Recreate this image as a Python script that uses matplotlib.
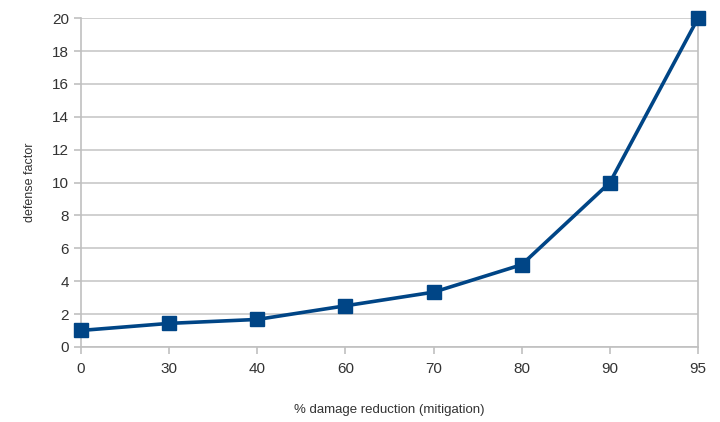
import matplotlib
matplotlib.use("Agg")
import matplotlib.pyplot as plt

# data
mitigation = ["0", "30", "40", "60", "70", "80", "90", "95"]
defense_factor = [1.0, 1.43, 1.67, 2.5, 3.33, 5.0, 10.0, 20.0]

plt.rcParams["font.family"] = ["Liberation Sans", "DejaVu Sans"]

fig = plt.figure(figsize=(7.2, 4.22), dpi=100)
ax = fig.add_axes([0.1125, 0.178, 0.857, 0.779])

x = list(range(len(mitigation)))
ax.plot(x, defense_factor, color="#004586", linewidth=2.6,
        marker="s", markersize=10, zorder=3, clip_on=False)

ax.set_xlim(0, len(mitigation) - 1)
ax.set_ylim(0, 20)
ax.set_xticks(x)
ax.set_xticklabels(mitigation)
ax.set_yticks(range(0, 21, 2))

ax.grid(axis="y", color="#c8c8c8", linewidth=1.2)
ax.set_axisbelow(True)
for side in ["left", "bottom", "right"]:
    ax.spines[side].set_color("#c0c0c0")
    ax.spines[side].set_linewidth(1.2)
ax.spines["top"].set_visible(False)

ax.tick_params(axis="both", colors="#c0c0c0", labelcolor="#333333",
               labelsize=11, length=5, width=1.2)
ax.tick_params(axis="x", pad=6)

ax.set_xlabel("% damage reduction (mitigation)", fontsize=9.5,
              color="#333333", labelpad=20)
ax.set_ylabel("defense factor", fontsize=9, color="#333333", labelpad=12)

fig.savefig("out.png", dpi=100)
